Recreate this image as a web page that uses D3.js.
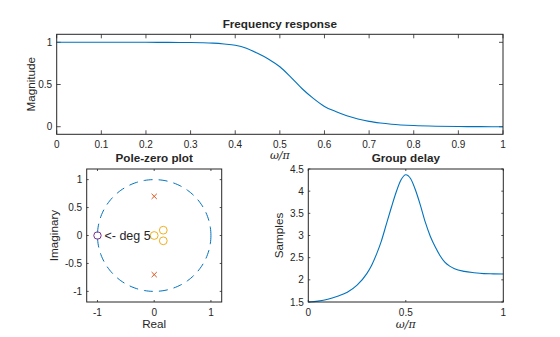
<!DOCTYPE html>
<html>
<head>
<meta charset="utf-8">
<script src="https://cdn.jsdelivr.net/npm/d3@7"></script>
<style>
  body { margin: 0; background: #fff; }
  svg { display: block; font-family: "Liberation Sans", Arial, Helvetica, sans-serif; }
  text { fill: #262626; }
</style>
</head>
<body>
<div id="chart"></div>
<script>
// frequency response (normalized frequency, magnitude)
const magW = [0, 0.05, 0.1, 0.15, 0.2, 0.25, 0.3, 0.325, 0.35, 0.375, 0.4, 0.425, 0.45, 0.475, 0.5, 0.525, 0.55, 0.575, 0.6, 0.625, 0.65, 0.675, 0.7, 0.725, 0.75, 0.8, 0.85, 0.9, 0.95, 1];
const magV = [1, 1, 1, 1, 1, 0.999, 0.998, 0.995, 0.99, 0.98, 0.965, 0.93, 0.87, 0.8, 0.71, 0.585, 0.45, 0.335, 0.24, 0.18, 0.13, 0.092, 0.063, 0.044, 0.03, 0.014, 0.006, 0.002, 0.0005, 0];

// group delay (samples)
const gdW = [0, 0.05, 0.1, 0.15, 0.2, 0.25, 0.3, 0.325, 0.35, 0.375, 0.4, 0.425, 0.45, 0.475, 0.5, 0.525, 0.55, 0.575, 0.6, 0.625, 0.65, 0.675, 0.7, 0.725, 0.75, 0.8, 0.85, 0.9, 0.95, 1];
const gdV = [1.5, 1.52, 1.56, 1.63, 1.72, 1.88, 2.14, 2.33, 2.58, 2.88, 3.25, 3.62, 3.97, 4.25, 4.37, 4.28, 4.02, 3.68, 3.3, 2.99, 2.75, 2.55, 2.4, 2.31, 2.25, 2.19, 2.16, 2.14, 2.135, 2.13];

// pole-zero plot
const poles = [[0, 0.7], [0, -0.7]];
const zeros = [[0, 0], [0.16, 0.095], [0.16, -0.095]];
const multiZeros = [[-1, 0]];
const multiLabels = ["<- deg 5"];

const magTicksX = [0, 0.1, 0.2, 0.3, 0.4, 0.5, 0.6, 0.7, 0.8, 0.9, 1];
const magTicksY = [0, 0.5, 1];
const pzTicksX = [-1, 0, 1];
const pzTicksY = [-1, -0.5, 0, 0.5, 1];
const gdTicksX = [0, 0.5, 1];
const gdTicksY = [1.5, 2, 2.5, 3, 3.5, 4, 4.5];

const blue = "#0072BD", orange = "#D95319", yellow = "#EDB120", purple = "#7E2F8E";
const axisColor = "#262626";

const svg = d3.select("#chart").append("svg")
  .attr("width", 560)
  .attr("height", 337);

// draws a boxed MATLAB-style axes, returns the group
function drawAxes(box, x, y, ticksX, ticksY, tickLen) {
  const g = svg.append("g");
  g.append("rect")
    .attr("x", box.left).attr("y", box.top)
    .attr("width", box.right - box.left).attr("height", box.bottom - box.top)
    .attr("fill", "#fff");

  ticksX.forEach(t => {
    const px = x(t);
    g.append("line").attr("x1", px).attr("x2", px)
      .attr("y1", box.bottom).attr("y2", box.bottom - tickLen)
      .attr("stroke", axisColor).attr("stroke-width", 0.8);
    g.append("line").attr("x1", px).attr("x2", px)
      .attr("y1", box.top).attr("y2", box.top + tickLen)
      .attr("stroke", axisColor).attr("stroke-width", 0.8);
    g.append("text")
      .attr("x", px).attr("y", box.bottom + 13.5)
      .attr("text-anchor", "middle")
      .style("font-size", "10px")
      .text(String(t));
  });
  ticksY.forEach(t => {
    const py = y(t);
    g.append("line").attr("x1", box.left).attr("x2", box.left + tickLen)
      .attr("y1", py).attr("y2", py)
      .attr("stroke", axisColor).attr("stroke-width", 0.8);
    g.append("line").attr("x1", box.right).attr("x2", box.right - tickLen)
      .attr("y1", py).attr("y2", py)
      .attr("stroke", axisColor).attr("stroke-width", 0.8);
    g.append("text")
      .attr("x", box.left - 4.5).attr("y", py)
      .attr("dy", "0.35em")
      .attr("text-anchor", "end")
      .style("font-size", "10px")
      .text(String(t));
  });
  return g;
}

function frame(g, box) {
  g.append("rect")
    .attr("x", box.left).attr("y", box.top)
    .attr("width", box.right - box.left).attr("height", box.bottom - box.top)
    .attr("fill", "none")
    .attr("stroke", axisColor).attr("stroke-width", 1);
}

function labels(box, title, xlab, ylab, titleY, xlabY, ylabX, italicX) {
  const cx = (box.left + box.right) / 2;
  const cy = (box.top + box.bottom) / 2;
  svg.append("text")
    .attr("x", cx).attr("y", titleY)
    .attr("text-anchor", "middle")
    .style("font-size", "11.7px").style("font-weight", "bold")
    .text(title);
  const xl = svg.append("text")
    .attr("x", cx).attr("y", xlabY)
    .attr("text-anchor", "middle")
    .style("font-size", "11.7px");
  if (italicX) xl.style("font-style", "italic").style("font-family", "'DejaVu Serif', 'Liberation Serif', serif").style("font-size", "11px");
  xl.text(xlab);
  svg.append("text")
    .attr("transform", `translate(${ylabX},${cy}) rotate(-90)`)
    .attr("text-anchor", "middle")
    .style("font-size", "11.7px")
    .text(ylab);
}

// ---- Frequency response ----
const magBox = { left: 56.7, right: 503, top: 34.3, bottom: 134.3 };
const mx = d3.scaleLinear().domain([0, 1]).range([magBox.left, magBox.right]);
const my = d3.scaleLinear().domain([-0.09, 1.095]).range([magBox.bottom, magBox.top]);
const gMag = drawAxes(magBox, mx, my, magTicksX, magTicksY, 4);
gMag.append("path")
  .datum(magW.map((w, i) => [w, magV[i]]))
  .attr("fill", "none")
  .attr("stroke", blue)
  .attr("stroke-width", 1.1)
  .attr("d", d3.line().x(d => mx(d[0])).y(d => my(d[1])).curve(d3.curveMonotoneX));
frame(gMag, magBox);
labels(magBox, "Frequency response", "\u03c9/\u03c0", "Magnitude", 28.3, 158.5, 35, true);

// ---- Pole-zero plot ----
const pzBox = { left: 86.7, right: 221.7, top: 169, bottom: 302 };
const px = d3.scaleLinear().domain([-1.19, 1.19]).range([pzBox.left, pzBox.right]);
const py = d3.scaleLinear().domain([-1.19, 1.19]).range([pzBox.bottom, pzBox.top]);
const gPz = drawAxes(pzBox, px, py, pzTicksX, pzTicksY, 2);

const unitCircle = d3.range(0, 361, 2).map(a => [Math.cos(a * Math.PI / 180), Math.sin(a * Math.PI / 180)]);
gPz.append("path")
  .datum(unitCircle)
  .attr("fill", "none")
  .attr("stroke", blue)
  .attr("stroke-width", 1)
  .attr("stroke-dasharray", "9,6")
  .attr("d", d3.line().x(d => px(d[0])).y(d => py(d[1])));

gPz.selectAll(".zero")
  .data(zeros)
  .enter().append("circle")
  .attr("cx", d => px(d[0])).attr("cy", d => py(d[1]))
  .attr("r", 3.9)
  .attr("fill", "none").attr("stroke", yellow).attr("stroke-width", 1);

gPz.selectAll(".mzero")
  .data(multiZeros)
  .enter().append("circle")
  .attr("cx", d => px(d[0])).attr("cy", d => py(d[1]))
  .attr("r", 3.7)
  .attr("fill", "none").attr("stroke", purple).attr("stroke-width", 1);

const xs = 2.6;
poles.forEach(p => {
  const cx = px(p[0]), cy = py(p[1]);
  gPz.append("path")
    .attr("d", `M${cx - xs},${cy - xs}L${cx + xs},${cy + xs}M${cx - xs},${cy + xs}L${cx + xs},${cy - xs}`)
    .attr("stroke", orange).attr("stroke-width", 1);
});

gPz.selectAll(".mlabel")
  .data(multiZeros)
  .enter().append("text")
  .attr("x", d => px(d[0]) + 7)
  .attr("y", d => py(d[1]))
  .attr("dy", "0.35em")
  .style("font-size", "12.5px")
  .text((d, i) => multiLabels[i]);

frame(gPz, pzBox);
labels(pzBox, "Pole-zero plot", "Real", "Imaginary", 161.7, 328, 58.4, false);

// ---- Group delay ----
const gdBox = { left: 308.3, right: 503.3, top: 169, bottom: 302 };
const gx = d3.scaleLinear().domain([0, 1]).range([gdBox.left, gdBox.right]);
const gy = d3.scaleLinear().domain([1.5, 4.5]).range([gdBox.bottom, gdBox.top]);
const gGd = drawAxes(gdBox, gx, gy, gdTicksX, gdTicksY, 2);
gGd.append("path")
  .datum(gdW.map((w, i) => [w, gdV[i]]))
  .attr("fill", "none")
  .attr("stroke", blue)
  .attr("stroke-width", 1.1)
  .attr("d", d3.line().x(d => gx(d[0])).y(d => gy(d[1])).curve(d3.curveMonotoneX));
frame(gGd, gdBox);
labels(gdBox, "Group delay", "\u03c9/\u03c0", "Samples", 162, 327.5, 283.4, true);
</script>
</body>
</html>
